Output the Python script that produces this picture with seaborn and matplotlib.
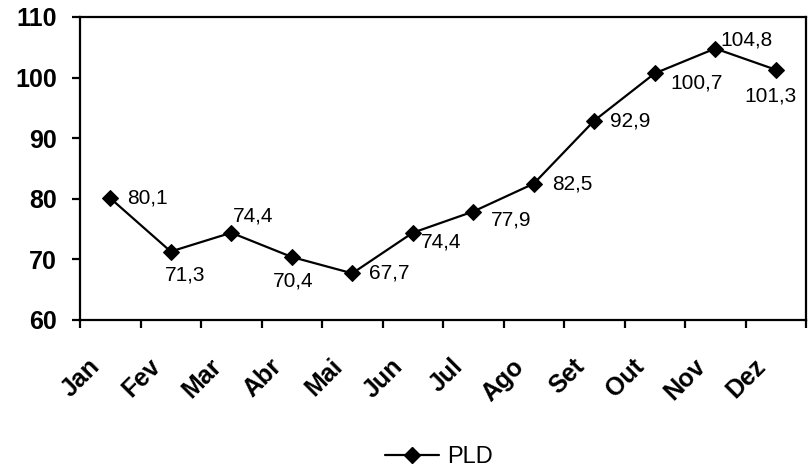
import matplotlib
matplotlib.use("Agg")
import matplotlib.pyplot as plt
import matplotlib.transforms as mtransforms
import seaborn as sns
import pandas as pd
from matplotlib.ticker import FixedLocator
from matplotlib.lines import Line2D

months = ["Jan", "Fev", "Mar", "Abr", "Mai", "Jun", "Jul", "Ago", "Set", "Out", "Nov", "Dez"]
pld = [80.1, 71.3, 74.4, 70.4, 67.7, 74.4, 77.9, 82.5, 92.9, 100.7, 104.8, 101.3]
yticks = [60, 70, 80, 90, 100, 110]

# label offsets in points (dx, dy, ha)
offsets = [(12, 0, "left"), (10, -17, "center"), (16, 12, "center"), (1, -17, "center"),
           (12, 0, "left"), (6, -7, "left"), (13, -6, "left"), (13, 0, "left"),
           (11.5, 0, "left"), (11, -7, "left"), (4, 6, "left"), (-4, -19, "center")]

sns.set_theme(style="white")
plt.rcParams['font.family'] = ['Liberation Sans', 'DejaVu Sans']
plt.rcParams['text.color'] = 'black'
plt.rcParams['xtick.color'] = 'black'
plt.rcParams['ytick.color'] = 'black'
plt.rcParams['axes.labelcolor'] = 'black'

df = pd.DataFrame({"Mês": months, "PLD": pld})
fig = plt.figure(figsize=(8.09, 4.70), dpi=100)
ax = fig.add_axes([80/809, (470-320)/470, (806-80)/809, 303/470])

sns.lineplot(data=df, x="Mês", y="PLD", ax=ax, color="black", linewidth=1.6,
             marker="D", markersize=8.5, markeredgecolor="black", markerfacecolor="black",
             sort=False, legend=False)

for i, (v, (dx, dy, ha)) in enumerate(zip(pld, offsets)):
    ax.annotate(f"{v:.1f}".replace(".", ","), (i, v), xytext=(dx, dy), textcoords="offset points",
                ha=ha, va="center", fontsize=15, color="black")

ax.set_xlim(-0.5, 11.5)
ax.set_ylim(60, 110)
ax.set_yticks(yticks)
ax.set_yticklabels([str(t) for t in yticks], fontsize=18, fontweight="bold")
ax.set_xticks(range(len(months)))
ax.set_xticklabels(months, fontsize=18, fontweight="bold", rotation=45, ha="right",
                   va="center", rotation_mode="anchor")
ax.xaxis.set_minor_locator(FixedLocator([i - 0.5 for i in range(13)]))
ax.tick_params(axis="x", which="major", length=0, pad=31)
ax.tick_params(axis="x", which="minor", length=6, width=1.6, direction="out", color="black", bottom=True)
ax.tick_params(axis="y", length=6, width=1.6, direction="out", color="black", left=True, pad=10.5)
shift = mtransforms.ScaledTranslation(-10/72, 0, fig.dpi_scale_trans)
for lbl in ax.get_xticklabels():
    lbl.set_transform(lbl.get_transform() + shift)
ax.set_xlabel("")
ax.set_ylabel("")
for s in ax.spines.values():
    s.set_color("black")
    s.set_linewidth(1.6)

h = Line2D([], [], color="black", linewidth=1.6, marker="D", markersize=8.5)
fig.legend([h], ["PLD"], loc="center left", bbox_to_anchor=(385/809, 1 - 457/470), frameon=False,
           fontsize=17, handlelength=2.3, handletextpad=0.34, borderpad=0, borderaxespad=0)

fig.savefig("out.png", dpi=100, facecolor="white")
